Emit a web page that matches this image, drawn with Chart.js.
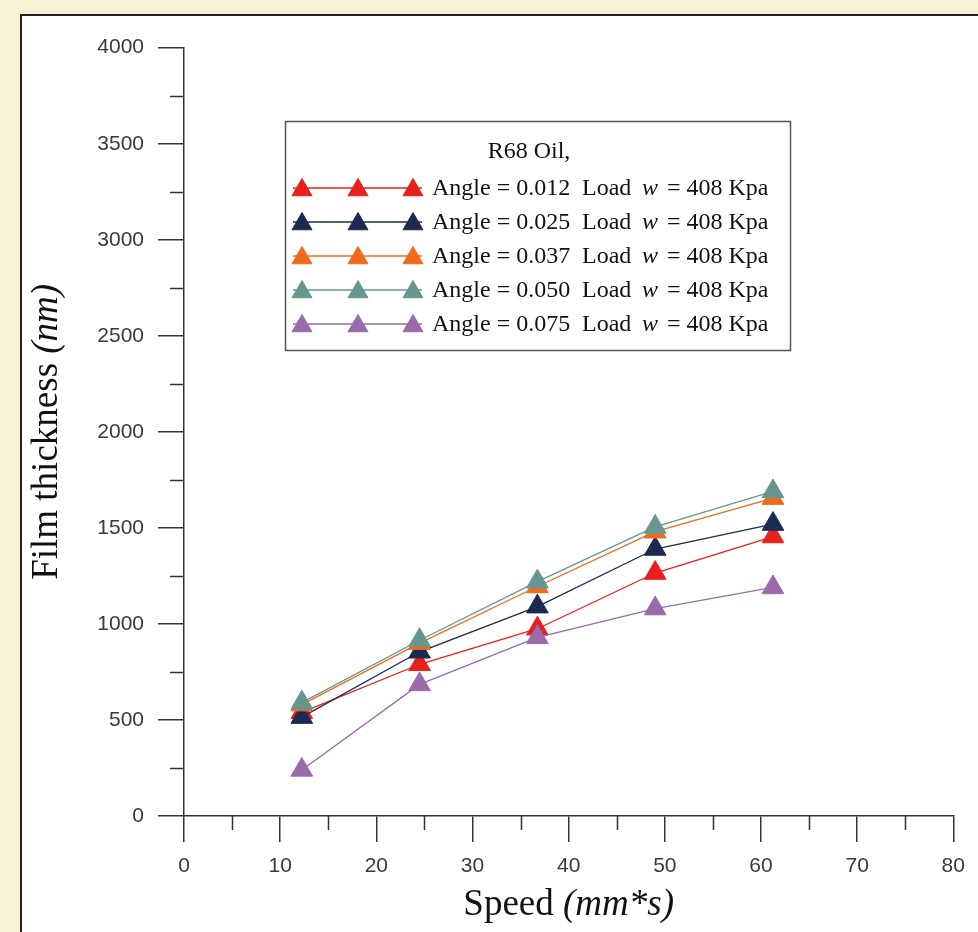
<!DOCTYPE html>
<html><head><meta charset="utf-8">
<script src="https://cdn.jsdelivr.net/npm/chart.js@4.4.0/dist/chart.umd.min.js"></script>
<style>
html,body{margin:0;padding:0;width:978px;height:932px;overflow:hidden;background:#f8f2d5;}
#panel{position:absolute;left:20px;top:14px;width:1000px;height:1000px;background:#fff;border:2px solid #222;box-sizing:border-box;}
#wrap{position:absolute;left:0;top:0;width:978px;height:932px;}
</style></head><body>
<div id="panel"></div>
<div id="wrap"><canvas id="c" width="978" height="932"></canvas></div>
<script>
// ---- data ----
const speed = [12.25, 24.5, 36.75, 49, 61.25];
const angle012 = [540, 790, 975, 1265, 1455];
const angle025 = [515, 855, 1090, 1390, 1520];
const angle037 = [580, 900, 1195, 1480, 1655];
const angle050 = [590, 915, 1220, 1505, 1690];
const angle075 = [240, 685, 930, 1080, 1190];
const angleLabels = ['0.012', '0.025', '0.037', '0.050', '0.075'];
const loadLabel = '408';
const legendTitle = 'R68 Oil,';
const xMinorTicks = [5, 15, 25, 35, 45, 55, 65, 75];
const yMinorTicks = [250, 750, 1250, 1750, 2250, 2750, 3250, 3750];
const xTitle = [{t: 'Speed ', i: false}, {t: '(mm*s)', i: true}];
const yTitle = [{t: 'Film thickness ', i: false}, {t: '(nm)', i: true}];

const colors = ['#e8201c', '#1b2a52', '#f06a1e', '#66968f', '#9a6aab'];
const seriesValues = [angle012, angle025, angle037, angle050, angle075];
const drawOrder = [4, 3, 2, 1, 0];

const datasets = seriesValues.map((vals, k) => ({
  label: 'Angle = ' + angleLabels[k],
  data: speed.map((s, j) => ({x: s, y: vals[j]})),
  borderColor: colors[k],
  backgroundColor: colors[k],
  pointBackgroundColor: colors[k],
  pointBorderColor: colors[k],
  pointStyle: 'triangle',
  pointRadius: 12.5,
  pointBorderWidth: 1,
  borderWidth: 1.3,
  order: drawOrder[k],
  tension: 0
}));

const SERIF = '"Liberation Serif", "Times New Roman", serif';

function drawMixed(ctx, segs, cx, baseline, size) {
  let total = 0;
  const widths = segs.map(s => {
    ctx.font = (s.i ? 'italic ' : '') + size + 'px ' + SERIF;
    const w = ctx.measureText(s.t).width; total += w; return w;
  });
  let x = cx - total / 2;
  ctx.textAlign = 'left'; ctx.textBaseline = 'alphabetic';
  segs.forEach((s, k) => {
    ctx.font = (s.i ? 'italic ' : '') + size + 'px ' + SERIF;
    ctx.fillText(s.t, x, baseline);
    x += widths[k];
  });
}

const deco = {
  id: 'deco',
  afterDraw(chart) {
    const ctx = chart.ctx, xs = chart.scales.x, ys = chart.scales.y, ca = chart.chartArea;
    ctx.save();
    // minor ticks
    ctx.strokeStyle = '#333'; ctx.lineWidth = 1.5;
    ctx.beginPath();
    xMinorTicks.forEach(v => { const px = Math.round(xs.getPixelForValue(v)) + 0.5; ctx.moveTo(px, ca.bottom); ctx.lineTo(px, ca.bottom + 14); });
    yMinorTicks.forEach(v => { const py = Math.round(ys.getPixelForValue(v)) + 0.5; ctx.moveTo(ca.left, py); ctx.lineTo(ca.left - 14, py); });
    ctx.stroke();
    // axis titles
    ctx.fillStyle = '#111';
    drawMixed(ctx, xTitle, (ca.left + ca.right) / 2, 915, 37);
    ctx.save();
    ctx.translate(57, (ca.top + ca.bottom) / 2);
    ctx.rotate(-Math.PI / 2);
    drawMixed(ctx, yTitle, 0, 0, 37);
    ctx.restore();
    // legend box
    const bx = 285, by = 121, bw = 505, bh = 229;
    ctx.fillStyle = '#fff'; ctx.fillRect(bx, by, bw, bh);
    ctx.strokeStyle = '#555'; ctx.lineWidth = 1.5; ctx.strokeRect(bx + 0.5, by + 0.5, bw, bh);
    ctx.fillStyle = '#111';
    ctx.font = '24px ' + SERIF; ctx.textAlign = 'center'; ctx.textBaseline = 'alphabetic';
    ctx.fillText(legendTitle, 529, 158);
    angleLabels.forEach((a, k) => {
      const yy = 188 + k * 34;
      ctx.strokeStyle = colors[k]; ctx.lineWidth = 1.3;
      ctx.beginPath(); ctx.moveTo(293, yy); ctx.lineTo(422, yy); ctx.stroke();
      ctx.fillStyle = colors[k]; ctx.strokeStyle = colors[k]; ctx.lineWidth = 1;
      [302, 358, 413].forEach(px => Chart.helpers.drawPoint(ctx, {pointStyle: 'triangle', radius: 11.5, rotation: 0, borderWidth: 1}, px, yy + 2));
      ctx.fillStyle = '#111'; ctx.textAlign = 'left';
      const base = yy + 7;
      ctx.font = '24px ' + SERIF;
      ctx.fillText('Angle = ' + a, 432, base);
      ctx.fillText('Load', 582, base);
      ctx.font = 'italic 24px ' + SERIF;
      ctx.fillText('w', 642, base);
      ctx.font = '24px ' + SERIF;
      ctx.fillText('= ' + loadLabel + ' Kpa', 667, base);
    });
    ctx.restore();
  }
};

new Chart(document.getElementById('c'), {
  type: 'line',
  data: {datasets},
  options: {
    responsive: false,
    devicePixelRatio: 1,
    animation: false,
    layout: {padding: {left: 0, top: 47.7, right: 24.7, bottom: 0}},
    plugins: {legend: {display: false}, tooltip: {enabled: false}},
    scales: {
      x: {
        type: 'linear', min: 0, max: 80,
        ticks: {stepSize: 10, color: '#3a3a3a', padding: 12, font: {family: '"Liberation Sans", Arial, sans-serif', size: 21}, callback: v => String(v)},
        grid: {display: true, drawOnChartArea: false, drawTicks: true, tickLength: 26, color: '#333', lineWidth: 1.5},
        border: {display: true, color: '#333', width: 1.5},
        afterFit: s => { s.height = 116; }
      },
      y: {
        type: 'linear', min: 0, max: 4000,
        ticks: {stepSize: 500, color: '#3a3a3a', padding: 14, font: {family: '"Liberation Sans", Arial, sans-serif', size: 21}, callback: v => String(v)},
        grid: {display: true, drawOnChartArea: false, drawTicks: true, tickLength: 26, color: '#333', lineWidth: 1.5},
        border: {display: true, color: '#333', width: 1.5},
        afterFit: s => { s.width = 184; }
      }
    }
  },
  plugins: [deco]
});
</script>
</body></html>
